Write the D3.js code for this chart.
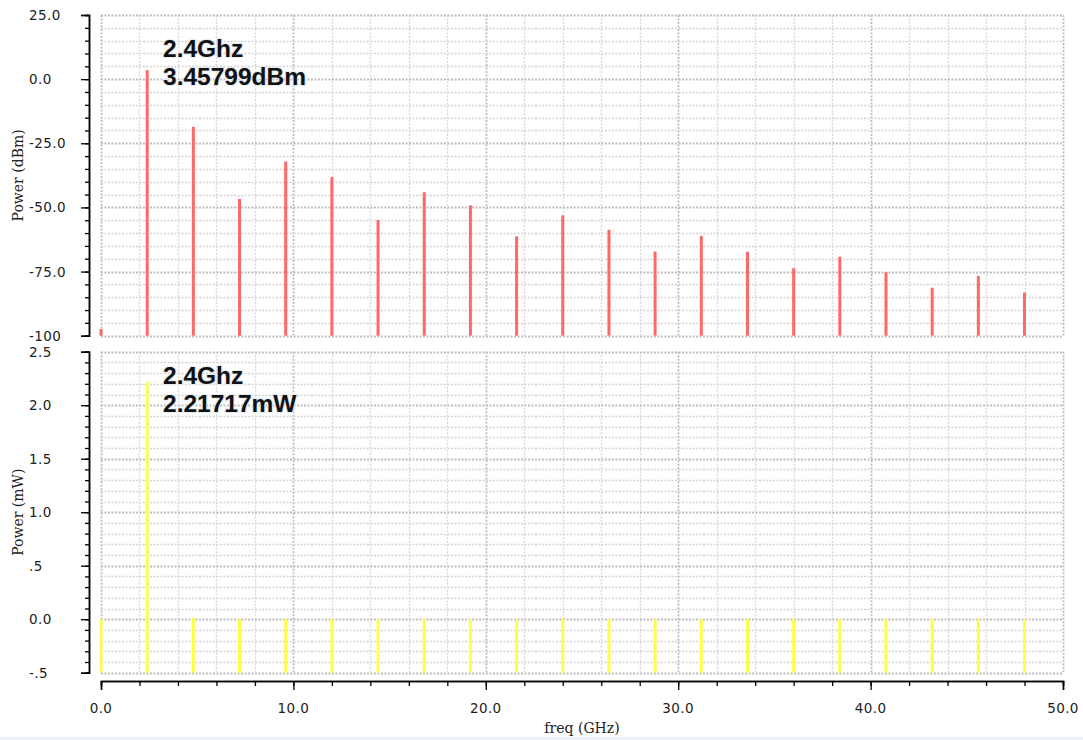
<!DOCTYPE html>
<html>
<head>
<meta charset="utf-8">
<script src="https://cdn.jsdelivr.net/npm/d3@7"></script>
<style>
  html, body { margin: 0; padding: 0; background: #ffffff; }
  svg { display: block; }
  .tick-label { font-family: "DejaVu Sans", Verdana, sans-serif; font-size: 13.5px; letter-spacing: 0.4px; fill: #222; }
  .axis-title { font-family: "DejaVu Serif", "Liberation Serif", serif; font-size: 14px; fill: #222; }
  .note { font-family: "Liberation Sans", Arial, sans-serif; font-weight: bold; font-size: 24.5px; fill: #111;
          stroke: #e4ecf4; stroke-width: 2px; paint-order: stroke; }
</style>
</head>
<body>
<svg id="chart" width="1083" height="740"></svg>
<script>
// Harmonic frequencies (GHz)
const freqs = [0, 2.4, 4.8, 7.2, 9.6, 12.0, 14.4, 16.8, 19.2, 21.6, 24.0,
               26.4, 28.8, 31.2, 33.6, 36.0, 38.4, 40.8, 43.2, 45.6, 48.0];

// Spectrum power in dBm
const powerDbm = [-97.4, 3.45799, -18.6, -46.7, -32.1, -38.2, -54.9, -44.1, -49.2, -61.3, -53.1,
                  -58.7, -67.2, -61.1, -67.3, -73.7, -69.2, -75.2, -81.3, -76.7, -83.2];

// Spectrum power in mW
const powerMw = [0.0, 2.21717, 0.014, 0.0, 0.001, 0.0, 0.0, 0.0, 0.0, 0.0, 0.0,
                 0.0, 0.0, 0.0, 0.0, 0.0, 0.0, 0.0, 0.0, 0.0, 0.0];

// Axis ticks and labels
const xMajorTicks = [0, 10, 20, 30, 40, 50];
const xTickLabels = ["0.0", "10.0", "20.0", "30.0", "40.0", "50.0"];
const dbmMajorTicks = [25, 0, -25, -50, -75, -100];
const dbmTickLabels = ["25.0", "0.0", "-25.0", "-50.0", "-75.0", "-100"];
const mwMajorTicks = [2.5, 2.0, 1.5, 1.0, 0.5, 0.0, -0.5];
const mwTickLabels = ["2.5", "2.0", "1.5", "1.0", ".5", "0.0", "-.5"];

// Marker annotations
const dbmNote = ["2.4Ghz", "3.45799dBm"];
const mwNote = ["2.4Ghz", "2.21717mW"];

const svg = d3.select("#chart");

const plotLeft = 101, plotRight = 1063;
const x = d3.scaleLinear().domain([0, 50]).range([plotLeft, plotRight]);
const yDbm = d3.scaleLinear().domain([-100, 25]).range([335.7, 15]);
const yMw = d3.scaleLinear().domain([-0.5, 2.5]).range([672.7, 351.7]);

const axisX = 89;       // position of the vertical axis lines
const xAxisY = 681;     // position of the frequency axis line

// thin pale strip along the bottom edge
svg.append("rect").attr("x", 0).attr("y", 737).attr("width", 1083).attr("height", 3).attr("fill", "#eef3f9");

function drawPanel(y, minorStep, majorStep, majorTicks, tickLabels, values, color, title) {
  const [d0, d1] = y.domain();
  const g = svg.append("g");

  // dotted grid: minor lines first, major lines on top
  const xMinor = d3.range(0, 50 + 1e-9, 2);
  const yMinor = d3.range(d0, d1 + minorStep / 2, minorStep);
  const isMajorY = v => Math.abs(v / majorStep - Math.round(v / majorStep)) < 1e-6;
  const isMajorX = v => Math.abs(v / 10 - Math.round(v / 10)) < 1e-6;

  g.selectAll(".vgrid").data(xMinor).join("line")
    .attr("x1", d => Math.round(x(d)) + 0.5).attr("x2", d => Math.round(x(d)) + 0.5)
    .attr("y1", y(d1)).attr("y2", y(d0))
    .attr("stroke", d => (isMajorX(d) ? "#bdbdbd" : "#d9d9d9"))
    .attr("stroke-width", d => (isMajorX(d) ? 1.8 : 1.4))
    .attr("stroke-dasharray", "2,1.5");

  g.selectAll(".hgrid").data(yMinor).join("line")
    .attr("x1", plotLeft).attr("x2", plotRight)
    .attr("y1", d => Math.round(y(d)) + 0.5).attr("y2", d => Math.round(y(d)) + 0.5)
    .attr("stroke", d => (isMajorY(d) ? "#bdbdbd" : "#d4d4d4"))
    .attr("stroke-width", d => (isMajorY(d) ? 1.8 : 1.4))
    .attr("stroke-dasharray", "2,1.5");

  // stems from the bottom of the panel up to each value
  g.selectAll(".stem").data(freqs.map((f, i) => ({ f, v: values[i] }))).join("line")
    .attr("x1", d => x(d.f)).attr("x2", d => x(d.f))
    .attr("y1", y(d0)).attr("y2", d => y(d.v))
    .attr("stroke", color).attr("stroke-width", 3);

  // vertical axis: minor and major ticks pointing left
  const minorAxis = d3.axisLeft(y).tickValues(yMinor).tickSize(4).tickFormat("");
  const majorAxis = d3.axisLeft(y).tickValues(majorTicks).tickSize(8).tickFormat("");
  const ga = svg.append("g").attr("transform", `translate(${axisX},0)`);
  ga.append("g").call(minorAxis);
  ga.append("g").call(majorAxis);
  ga.selectAll("path.domain").attr("stroke", "#000").attr("stroke-width", 1.5);
  ga.selectAll(".tick line").attr("stroke", "#000").attr("stroke-width", 1.3);

  svg.selectAll(null).data(majorTicks).join("text")
    .attr("class", "tick-label")
    .attr("x", 29).attr("y", d => y(d) + 5)
    .text((d, i) => tickLabels[i]);

  // rotated axis title
  const cy = (y(d0) + y(d1)) / 2;
  svg.append("text").attr("class", "axis-title")
    .attr("transform", `translate(23,${cy}) rotate(-90)`)
    .attr("text-anchor", "middle")
    .text(title);

  return g;
}

drawPanel(yDbm, 5, 25, dbmMajorTicks, dbmTickLabels, powerDbm, "#ff6868", "Power (dBm)");
drawPanel(yMw, 0.1, 0.5, mwMajorTicks, mwTickLabels, powerMw, "#ffff48", "Power (mW)");

// marker annotations
function drawNote(lines, top) {
  svg.append("text").attr("class", "note").attr("x", 163).attr("y", top).text(lines[0]);
  svg.append("text").attr("class", "note").attr("x", 163).attr("y", top + 28).text(lines[1]);
}
drawNote(dbmNote, 57);
drawNote(mwNote, 384);

// frequency axis
const xMinorAxis = d3.axisBottom(x).tickValues(d3.range(0, 50 + 1e-9, 2)).tickSize(5).tickFormat("");
const xMajorAxis = d3.axisBottom(x).tickValues(xMajorTicks).tickSize(9).tickFormat("");
const gx = svg.append("g").attr("transform", `translate(0,${xAxisY})`);
gx.append("g").call(xMinorAxis);
gx.append("g").call(xMajorAxis);
gx.selectAll("path.domain").attr("stroke", "#000").attr("stroke-width", 1.5);
gx.selectAll(".tick line").attr("stroke", "#000").attr("stroke-width", 1.3);

svg.selectAll(null).data(xMajorTicks).join("text")
  .attr("class", "tick-label")
  .attr("x", d => x(d)).attr("y", 713)
  .attr("text-anchor", "middle")
  .text((d, i) => xTickLabels[i]);

svg.append("text").attr("class", "axis-title")
  .attr("x", 582).attr("y", 733)
  .attr("text-anchor", "middle")
  .text("freq (GHz)");
</script>
</body>
</html>
